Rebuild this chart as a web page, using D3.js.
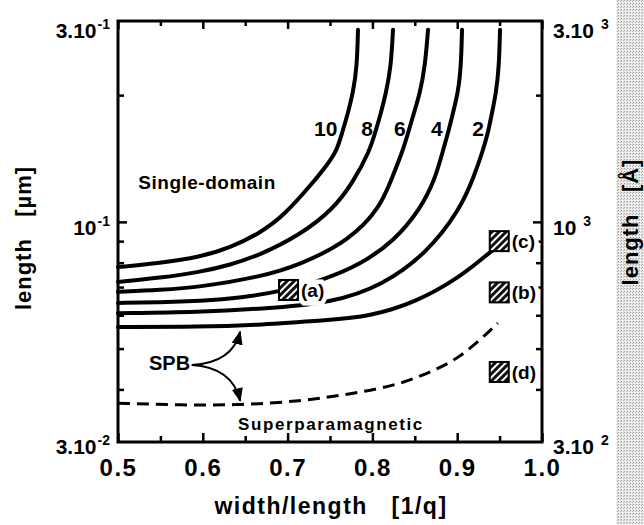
<!DOCTYPE html>
<html lang="en">
<head>
<meta charset="utf-8">
<title>Single-domain / superparamagnetic limits</title>
<script src="https://cdn.jsdelivr.net/npm/d3@7"></script>
<style>
  body { margin: 0; background: #fff; }
  svg { display: block; font-family: "Liberation Sans", Arial, sans-serif; font-weight: bold; }
</style>
</head>
<body>
<div id="chart"></div>
<script>
// x = width/length [1/q], y = length [um] (log)
var xMajor = [0.5, 0.6, 0.7, 0.8, 0.9, 1.0];
var xMinor = [0.55, 0.65, 0.75, 0.85, 0.95];
var yMajor = [0.1];
var yMinor = [0.04, 0.05, 0.06, 0.07, 0.08, 0.09, 0.2];
var yLabelVals = [0.03, 0.1, 0.3];
var yLeftLabels = [["3.10", "-2"], ["10", "-1"], ["3.10", "-1"]];
var yRightLabels = [["3.10", "2"], ["10", "3"], ["3.10", "3"]];

// solid boundaries, labelled by curve number
var curve10 = [[0.5, 0.0781], [0.5495, 0.0798], [0.5967, 0.0825], [0.6321, 0.0867], [0.6675, 0.0941],
  [0.6946, 0.103], [0.730, 0.124], [0.7465, 0.1365], [0.7583, 0.148], [0.7642, 0.1626],
  [0.7712, 0.1814], [0.7771, 0.2024], [0.7818, 0.2333], [0.783, 0.286]];
var curve8 = [[0.5, 0.072], [0.5495, 0.0736], [0.5967, 0.076], [0.6321, 0.079], [0.6675, 0.0834],
  [0.7146, 0.0931], [0.7535, 0.107], [0.7771, 0.124], [0.7972, 0.148], [0.8031, 0.1626],
  [0.8101, 0.1814], [0.816, 0.2024], [0.8219, 0.2333], [0.8243, 0.286]];
var curve6 = [[0.5, 0.0682], [0.5495, 0.0689], [0.5967, 0.070], [0.6675, 0.074], [0.7146, 0.079],
  [0.7736, 0.0905], [0.809, 0.108], [0.823, 0.127], [0.8361, 0.148], [0.842, 0.1626],
  [0.849, 0.1814], [0.8561, 0.2024], [0.862, 0.2333], [0.8656, 0.286]];
var curve4 = [[0.5, 0.0642], [0.5495, 0.0644], [0.5967, 0.0649], [0.6439, 0.0659], [0.7005, 0.0689],
  [0.7417, 0.0728], [0.7854, 0.079], [0.8267, 0.0905], [0.8561, 0.107], [0.8738, 0.126],
  [0.8833, 0.148], [0.8892, 0.1626], [0.895, 0.1814], [0.9009, 0.2024], [0.9045, 0.2333], [0.9057, 0.286]];
var curve2 = [[0.5, 0.0607], [0.5967, 0.0611], [0.6675, 0.0621], [0.7535, 0.0642], [0.8125, 0.0708],
  [0.8644, 0.0843], [0.9033, 0.107], [0.9198, 0.128], [0.9304, 0.148], [0.9363, 0.1626],
  [0.941, 0.1814], [0.9458, 0.2024], [0.9493, 0.2333], [0.9505, 0.286]];
var spbUpper = [[0.5, 0.0563], [0.5967, 0.0563], [0.6675, 0.0569], [0.75, 0.0585], [0.7936, 0.0594],
  [0.8526, 0.0645], [0.9033, 0.074], [0.9304, 0.0821], [0.9422, 0.0857]];
var spbLower = [[0.5, 0.0371], [0.573, 0.0367], [0.644, 0.0367], [0.715, 0.0375], [0.774, 0.039],
  [0.8325, 0.041], [0.88, 0.045], [0.903, 0.0478], [0.927, 0.0524], [0.948, 0.0575]];

var curveNames = ["10", "8", "6", "4", "2"];
var curveNameX = [0.745, 0.7936, 0.8325, 0.876, 0.9245];
var curveNameY = 0.16;

// samples
var sampleNames = ["(a)", "(b)", "(c)", "(d)"];
var sampleX = [0.7005, 0.949, 0.949, 0.949];
var sampleY = [0.0689, 0.068, 0.09, 0.044];

var W = 644, H = 525;
var margin = {top: 21, left: 118};
var width = 424, height = 421;

var svg = d3.select("#chart").append("svg")
    .attr("width", W).attr("height", H);

var defs = svg.append("defs");
var hatch = defs.append("pattern").attr("id", "hatch")
    .attr("patternUnits", "userSpaceOnUse").attr("width", 5).attr("height", 5)
    .attr("patternTransform", "rotate(45)");
hatch.append("rect").attr("width", 5).attr("height", 5).attr("fill", "#111");
hatch.append("rect").attr("x", 0).attr("width", 2).attr("height", 5).attr("fill", "#fff");

var grain = defs.append("pattern").attr("id", "grain")
    .attr("patternUnits", "userSpaceOnUse").attr("width", 3).attr("height", 3);
grain.append("rect").attr("width", 3).attr("height", 3).attr("fill", "#e8e8e8");
grain.append("rect").attr("width", 1).attr("height", 1).attr("fill", "#999");
grain.append("rect").attr("x", 2).attr("y", 1).attr("width", 1).attr("height", 1).attr("fill", "#b8b8b8");
grain.append("rect").attr("x", 1).attr("y", 2).attr("width", 1).attr("height", 1).attr("fill", "#fff");

defs.append("marker").attr("id", "arrow")
    .attr("viewBox", "0 0 10 10").attr("refX", 9).attr("refY", 5)
    .attr("markerWidth", 7).attr("markerHeight", 7).attr("orient", "auto")
    .append("path").attr("d", "M0,1 L10,5 L0,9 Z").attr("fill", "#000");

// scan grain on the right edge
svg.append("rect").attr("x", 616).attr("y", 0).attr("width", 28).attr("height", H)
    .attr("fill", "url(#grain)");

var x = d3.scaleLinear().domain([0.5, 1.0]).range([0, width]);
var y = d3.scaleLog().domain([0.03, 0.3]).range([height, 0]);

var g = svg.append("g").attr("transform", "translate(" + margin.left + "," + margin.top + ")");

function styleAxis(sel) {
    sel.select(".domain").remove();
    sel.selectAll(".tick line").attr("stroke", "#000").attr("stroke-width", 2.5);
}

// x axes
g.append("g").attr("transform", "translate(0," + height + ")")
    .call(d3.axisBottom(x).tickValues(xMajor).tickSizeInner(-9).tickSizeOuter(0).tickPadding(17)
        .tickFormat(d3.format(".1f")))
    .call(styleAxis)
    .selectAll("text").attr("font-size", 24).attr("font-family", "Liberation Sans, Arial, sans-serif")
    .attr("font-weight", "bold").attr("letter-spacing", 1.5).attr("fill", "#000");
g.append("g").attr("transform", "translate(0," + height + ")")
    .call(d3.axisBottom(x).tickValues(xMinor).tickSizeInner(-6).tickSizeOuter(0).tickFormat(""))
    .call(styleAxis);
g.append("g")
    .call(d3.axisTop(x).tickValues(xMajor).tickSizeInner(-8).tickSizeOuter(0).tickFormat(""))
    .call(styleAxis);
g.append("g")
    .call(d3.axisTop(x).tickValues(xMinor).tickSizeInner(-5).tickSizeOuter(0).tickFormat(""))
    .call(styleAxis);

// y axes, ticks pointing inward on both sides
[[d3.axisLeft, 0], [d3.axisRight, width]].forEach(function (a) {
    g.append("g").attr("transform", "translate(" + a[1] + ",0)")
        .call(a[0](y).tickValues(yMajor).tickSizeInner(-9).tickSizeOuter(0).tickFormat(""))
        .call(styleAxis);
    g.append("g").attr("transform", "translate(" + a[1] + ",0)")
        .call(a[0](y).tickValues(yMinor).tickSizeInner(-6).tickSizeOuter(0).tickFormat(""))
        .call(styleAxis);
});

// y tick labels with exponents
function expLabel(sel, parts, anchor, lx, supDx) {
    sel.append("text")
        .attr("x", lx).attr("y", 0).attr("text-anchor", anchor)
        .each(function () {
            var t = d3.select(this);
            t.append("tspan").attr("font-size", 21).text(parts[0]);
            t.append("tspan").attr("font-size", 14).attr("dx", supDx).attr("dy", -9).text(parts[1]);
        });
}
var labelShift = [5, 6, 10];
yLabelVals.forEach(function (v, i) {
    var row = g.append("g").attr("transform", "translate(0," + (y(v) + labelShift[i] + 7) + ")");
    expLabel(row, yLeftLabels[i], "end", -8, 1);
    expLabel(row, yRightLabels[i], "start", width + 11, 7);
});

// frame
g.append("rect").attr("width", width).attr("height", height)
    .attr("fill", "none").attr("stroke", "#000").attr("stroke-width", 3);

var line = d3.line()
    .x(function (d) { return x(d[0]); })
    .y(function (d) { return y(d[1]); })
    .curve(d3.curveBasis);

[curve10, curve8, curve6, curve4, curve2, spbUpper].forEach(function (c) {
    g.append("path").datum(c).attr("d", line)
        .attr("fill", "none").attr("stroke", "#000").attr("stroke-width", 4)
        .attr("stroke-linecap", "round");
});
g.append("path").datum(spbLower).attr("d", line)
    .attr("fill", "none").attr("stroke", "#000").attr("stroke-width", 3)
    .attr("stroke-dasharray", "12,7");

// curve numbers
curveNames.forEach(function (n, i) {
    g.append("text").attr("x", x(curveNameX[i])).attr("y", y(curveNameY))
        .attr("text-anchor", "middle").attr("font-size", 21).text(n);
});

// sample labels (white halo cuts the curve behind "(a)")
sampleNames.forEach(function (n, i) {
    g.append("text").attr("x", x(sampleX[i]) + 13).attr("y", y(sampleY[i]) + 7)
        .attr("font-size", 19).attr("stroke", "#fff").attr("stroke-width", 9)
        .attr("paint-order", "stroke").text(n);
});
sampleNames.forEach(function (n, i) {
    g.append("rect").attr("x", x(sampleX[i]) - 9).attr("y", y(sampleY[i]) - 10)
        .attr("width", 19).attr("height", 20)
        .attr("fill", "url(#hatch)").attr("stroke", "#000").attr("stroke-width", 2);
});

// region names
g.append("text").attr("x", x(0.524)).attr("y", y(0.12))
    .attr("font-size", 19).attr("letter-spacing", 0.5).text("Single-domain");
g.append("text").attr("x", x(0.6415)).attr("y", y(0.032))
    .attr("font-size", 17).attr("letter-spacing", 1.6).text("Superparamagnetic");
g.append("text").attr("x", x(0.585)).attr("y", y(0.0445))
    .attr("text-anchor", "end").attr("font-size", 20).text("SPB");

// SPB arrows
var arrowStart = [0.587, 0.0457];
var arrowEnds = [[0.644, 0.0548], [0.644, 0.0376]];
var arrowBends = [[0.635, 0.0462], [0.635, 0.0451]];
arrowEnds.forEach(function (e, i) {
    var p = d3.path();
    p.moveTo(x(arrowStart[0]), y(arrowStart[1]));
    p.quadraticCurveTo(x(arrowBends[i][0]), y(arrowBends[i][1]), x(e[0]), y(e[1]));
    g.append("path").attr("d", p.toString()).attr("fill", "none")
        .attr("stroke", "#000").attr("stroke-width", 2).attr("marker-end", "url(#arrow)");
});

// axis titles
svg.append("text").attr("x", 331).attr("y", 514).attr("text-anchor", "middle")
    .attr("font-size", 23).attr("letter-spacing", 1.5).style("white-space", "pre")
    .text("width/length   [1/q]");
svg.append("text").attr("transform", "translate(31,238) rotate(-90)")
    .attr("text-anchor", "middle").attr("font-size", 22).attr("letter-spacing", 1)
    .style("white-space", "pre").text("length   [\u00b5m]");
svg.append("text").attr("transform", "translate(638,222) rotate(-90)")
    .attr("text-anchor", "middle").attr("font-size", 22).attr("letter-spacing", 1)
    .style("white-space", "pre").text("length   [\u00c5]");
</script>
</body>
</html>
